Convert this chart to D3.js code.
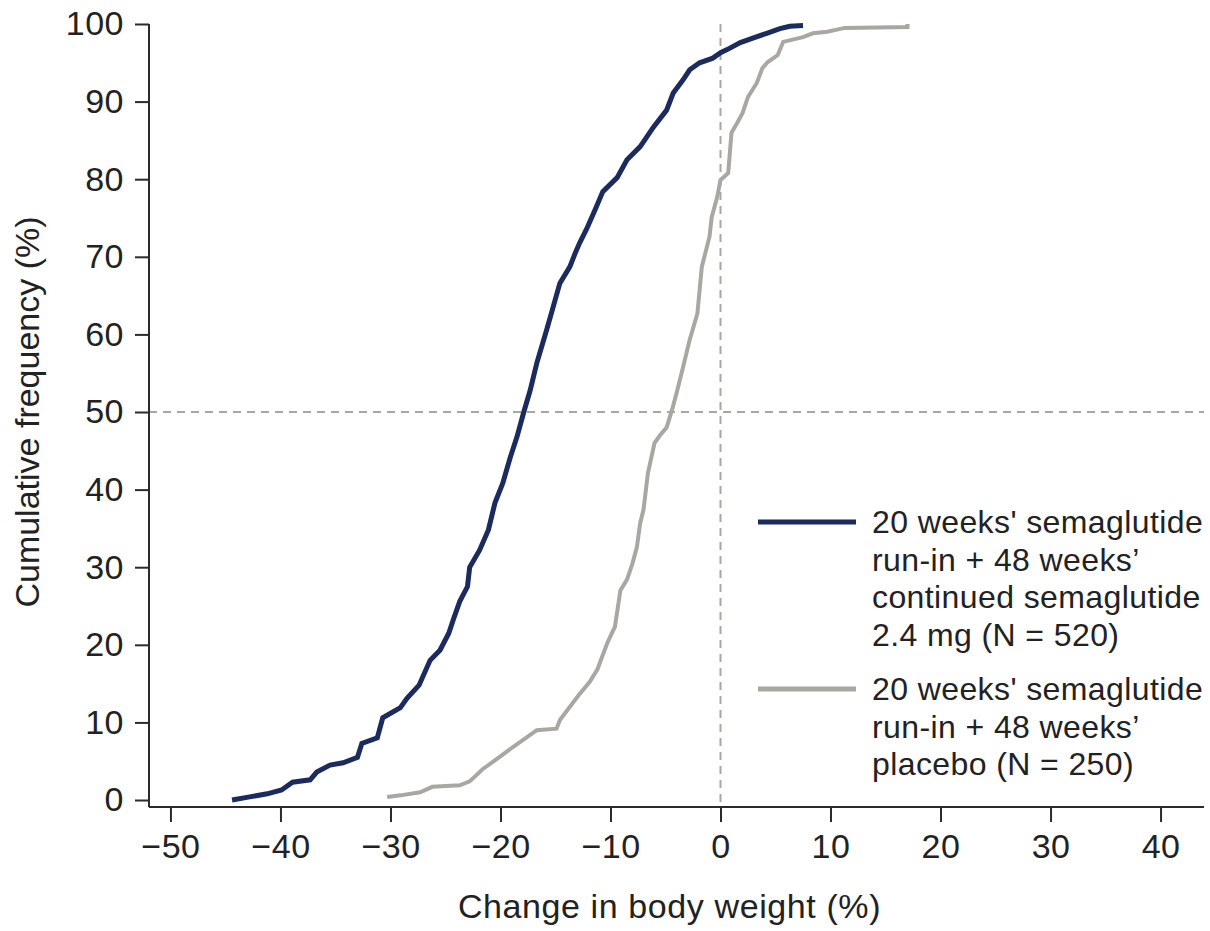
<!DOCTYPE html>
<html>
<head>
<meta charset="utf-8">
<script src="https://cdn.jsdelivr.net/npm/d3@7.9.0/dist/d3.min.js"></script>
<style>
  body { margin: 0; background: #fff; }
  svg { display: block; font-family: 'Liberation Sans', Arial, sans-serif; }
</style>
</head>
<body>
<svg id="chart" width="1210" height="931"></svg>
<script>
// semaglutide 2.4 mg
const semaWeight = [
  -44.4, -42.8, -41.2, -39.9, -38.9, -37.3, -36.7, -35.5, -34.3, -33.0,
  -32.6, -31.2, -30.7, -29.1, -28.5, -27.4, -26.4, -25.5, -24.7, -24.3,
  -23.7, -23.0, -22.8, -21.9, -21.1, -20.5, -19.8, -19.1, -18.5, -17.9,
  -17.3, -16.7, -15.8, -15.3, -14.6, -13.7, -13.2, -12.8, -12.2, -11.3,
  -10.7, -9.4, -8.5, -7.3, -6.1, -4.9, -4.3, -3.4, -2.8, -1.9,
  -0.7, 0, 0.6, 1.8, 3.0, 4.2, 5.4, 6.3, 7.5,
];
const semaCum = [
  0, 0.4, 0.8, 1.3, 2.3, 2.6, 3.6, 4.5, 4.8, 5.5,
  7.3, 8.0, 10.6, 11.9, 13.1, 14.8, 18.0, 19.3, 21.5, 23.2,
  25.6, 27.5, 30.0, 32.2, 34.8, 38.3, 40.8, 44.2, 46.8, 49.9,
  52.8, 56.3, 60.6, 63.1, 66.6, 68.7, 70.5, 71.8, 73.5, 76.4,
  78.4, 80.2, 82.5, 84.2, 86.7, 88.9, 91.1, 92.8, 94.1, 95.0,
  95.6, 96.3, 96.7, 97.6, 98.2, 98.8, 99.4, 99.7, 99.8,
];

// placebo
const placeboWeight = [
  -30.3, -29.1, -27.3, -26.2, -23.7, -22.8, -21.6, -20.6, -18.9, -16.7,
  -14.9, -14.6, -12.9, -11.9, -11.2, -10.3, -9.6, -9.1, -8.5, -8.0,
  -7.6, -7.3, -7.0, -6.6, -6.0, -5.5, -4.9, -4.4, -4.0, -3.4,
  -2.8, -2.1, -1.7, -1.0, -0.8, -0.3, 0, 0.7, 1.0, 1.5,
  2.0, 2.5, 3.3, 3.8, 4.3, 5.2, 5.7, 7.5, 8.4, 9.7,
  11.3, 17.0, 17.0,
];
const placeboCum = [
  0.4, 0.6, 1.0, 1.7, 1.9, 2.4, 4.0, 5.0, 6.8, 9.0,
  9.2, 10.3, 13.5, 15.2, 16.8, 20.2, 22.3, 27.0, 28.4, 30.5,
  32.6, 35.7, 37.4, 42.1, 46.0, 47.0, 48.0, 50.3, 52.4, 55.8,
  59.3, 62.7, 68.7, 72.6, 75.1, 77.7, 79.9, 80.8, 86.0, 87.2,
  88.5, 90.6, 92.4, 94.3, 95.1, 96.0, 97.7, 98.3, 98.8, 99.0,
  99.5, 99.6, 100,
];

const xTicks = [-50, -40, -30, -20, -10, 0, 10, 20, 30, 40];
const yTicks = [0, 10, 20, 30, 40, 50, 60, 70, 80, 90, 100];

const seriesNames = ['semaglutide', 'placebo'];
const seriesColors = ['#1c2b5e', '#a9a7a1'];
const seriesWidths = [5, 4];
const legendLines = [
  ["20 weeks' semaglutide", 'run-in + 48 weeks\u2019', 'continued semaglutide', '2.4 mg (N = 520)'],
  ["20 weeks' semaglutide", 'run-in + 48 weeks\u2019', 'placebo (N = 250)'],
];

const svg = d3.select('#chart');
const plot = { left: 149, right: 1204, top: 24, bottom: 807 };

const x = d3.scaleLinear().domain([-51.95, 43.95]).range([plot.left, plot.right]);
const y = d3.scaleLinear().domain([-0.9, 100]).range([plot.bottom, plot.top]);

// reference lines at 0% change and 50% cumulative
svg.append('line')
  .attr('x1', x(0)).attr('x2', x(0))
  .attr('y1', plot.top).attr('y2', plot.bottom)
  .attr('stroke', '#a9a7a1').attr('stroke-width', 2)
  .attr('stroke-dasharray', '8,6');
svg.append('line')
  .attr('x1', plot.left).attr('x2', plot.right)
  .attr('y1', y(50)).attr('y2', y(50))
  .attr('stroke', '#a9a7a1').attr('stroke-width', 2)
  .attr('stroke-dasharray', '8,6');

const xAxis = svg.append('g')
  .attr('transform', `translate(0,${plot.bottom})`)
  .call(d3.axisBottom(x).tickValues(xTicks).tickSize(15).tickPadding(12)
    .tickFormat((d) => (d < 0 ? '\u2212' + Math.abs(d) : d)));
const yAxis = svg.append('g')
  .attr('transform', `translate(${plot.left},0)`)
  .call(d3.axisLeft(y).tickValues(yTicks).tickSize(14).tickPadding(11));

[xAxis, yAxis].forEach((g) => {
  g.select('.domain').attr('stroke', '#2b2b2b').attr('stroke-width', 2);
  g.selectAll('.tick line').attr('stroke', '#2b2b2b').attr('stroke-width', 2);
  g.selectAll('.tick text')
    .attr('fill', '#222')
    .style('font-size', '34px')
    .style('letter-spacing', '0.5px')
    .style('font-family', "'Liberation Sans', Arial, sans-serif");
});
// plain axis lines, no outer ticks
yAxis.select('.domain').attr('d', `M0,${plot.top}V${plot.bottom}`);
xAxis.select('.domain').attr('d', `M${plot.left},0H${plot.right}`);

const line = d3.line()
  .x((d) => x(d[0]))
  .y((d) => y(d[1]));

const series = [
  d3.zip(semaWeight, semaCum),
  d3.zip(placeboWeight, placeboCum),
];

// placebo drawn first so semaglutide sits on top
[1, 0].forEach((i) => {
  svg.append('path')
    .datum(series[i])
    .attr('class', seriesNames[i])
    .attr('d', line)
    .attr('fill', 'none')
    .attr('stroke', seriesColors[i])
    .attr('stroke-width', seriesWidths[i]);
});

// axis titles
svg.append('text')
  .attr('x', (plot.left + plot.right) / 2 - 7)
  .attr('y', 918)
  .attr('text-anchor', 'middle')
  .attr('fill', '#222')
  .style('font-size', '34px')
  .style('letter-spacing', '0.6px')
  .text('Change in body weight (%)');
svg.append('text')
  .attr('transform', 'translate(39,412) rotate(-90)')
  .attr('text-anchor', 'middle')
  .attr('fill', '#222')
  .style('font-size', '34px')
  .text('Cumulative frequency (%)');

// legend
const legendTop = [522, 689];
legendLines.forEach((lines, i) => {
  const g = svg.append('g').attr('transform', `translate(758,${legendTop[i]})`);
  g.append('line')
    .attr('x1', 0).attr('x2', 98)
    .attr('stroke', seriesColors[i])
    .attr('stroke-width', 5);
  g.selectAll('text')
    .data(lines)
    .join('text')
    .attr('x', 114)
    .attr('y', (d, j) => 11 + j * 37.5)
    .attr('fill', '#222')
    .style('font-size', '32px')
    .style('letter-spacing', '0.4px')
    .text((d) => d);
});
</script>
</body>
</html>
